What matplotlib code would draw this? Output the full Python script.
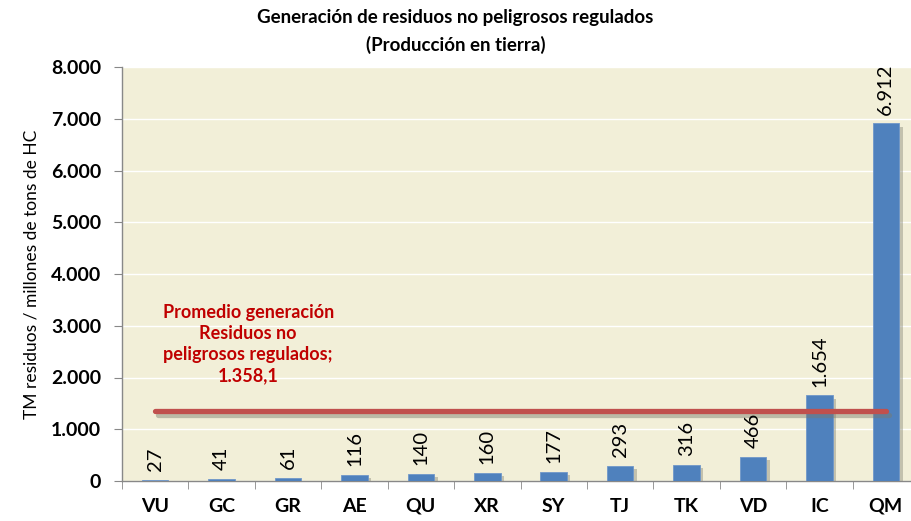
import matplotlib
matplotlib.use("Agg")
import matplotlib.pyplot as plt
import matplotlib.patheffects as pe
from matplotlib.ticker import FuncFormatter, MultipleLocator

plt.rcParams["font.family"] = ["Lato", "DejaVu Sans"]

categories = ["VU", "GC", "GR", "AE", "QU", "XR", "SY", "TJ", "TK", "VD", "IC", "QM"]
values = [27, 41, 61, 116, 140, 160, 177, 293, 316, 466, 1654, 6912]
average = 1358.1


def fmt_es(v, pos=None):
    return f"{int(v):,}".replace(",", ".")


fig = plt.figure(figsize=(9.11, 5.21), dpi=100)
ax = fig.add_axes([122 / 911, 40 / 521, 797 / 911, 414 / 521])
ax.set_facecolor("#F2EFD8")

x = range(len(categories))
shadow = [pe.SimplePatchShadow(offset=(2.5, -2.5), shadow_rgbFace="#8a8a7a", alpha=0.45), pe.Normal()]
bars = ax.bar(x, values, width=0.4, color="#4F81BD", edgecolor="#6f97c9", linewidth=0.6,
              zorder=3, path_effects=shadow)

for xi, v in zip(x, values):
    ax.text(xi, v + 170, fmt_es(v), rotation=90, ha="center", va="bottom",
            fontsize=14.5, color="black", zorder=5)

ax.plot([0, 11], [average, average], color="#C0504D", linewidth=3.8, solid_capstyle="round", zorder=4,
        path_effects=[pe.SimpleLineShadow(offset=(2, -3), shadow_color="#7a7a6a", alpha=0.45), pe.Normal()])

ax.text(1.4, 2650, "Promedio generación\nResiduos no\npeligrosos regulados;\n1.358,1",
        ha="center", va="center", multialignment="center", fontsize=13, fontweight="bold",
        color="#C00000", linespacing=1.3, zorder=5)

ax.set_xlim(-0.5, 11.5)
ax.set_ylim(0, 8000)
ax.yaxis.set_major_locator(MultipleLocator(1000))
ax.yaxis.set_major_formatter(FuncFormatter(fmt_es))
ax.grid(axis="y", color="white", linewidth=1.0, zorder=1)
ax.set_axisbelow(True)

ax.set_xticks(list(x))
ax.set_xticklabels(categories, fontsize=14, fontweight="bold")
ax.set_xticks([i + 0.5 for i in range(-1, 11)], minor=True)
ax.tick_params(axis="x", which="major", length=0, pad=12)
ax.tick_params(axis="x", which="minor", length=6, color="#888888", direction="out")
ax.tick_params(axis="y", length=6, color="#888888", labelsize=14, pad=9)
for lab in ax.get_yticklabels():
    lab.set_fontweight("bold")

for side in ["top", "right"]:
    ax.spines[side].set_visible(False)
for side in ["left", "bottom"]:
    ax.spines[side].set_color("#888888")
    ax.spines[side].set_linewidth(1.0)

ax.set_ylabel("TM residuos / millones de tons de HC", fontsize=12.5, labelpad=8)

fig.text(0.5, 1 - 18 / 521, "Generación de residuos no peligrosos regulados", ha="center", va="center",
         fontsize=13.5, fontweight="bold")
fig.text(0.5, 1 - 45 / 521, "(Producción en tierra)", ha="center", va="center",
         fontsize=13.5, fontweight="bold")

fig.savefig("out.png", dpi=100)
